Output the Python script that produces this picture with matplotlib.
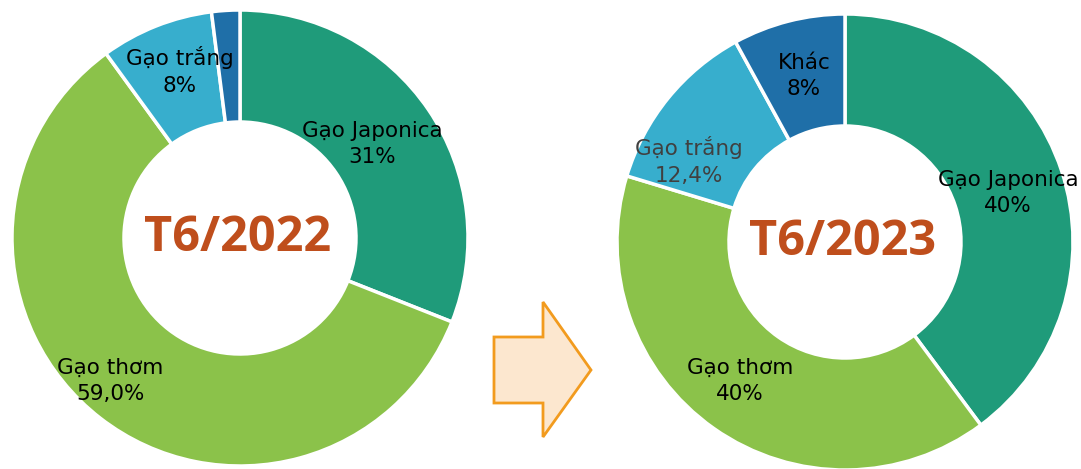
import matplotlib.pyplot as plt
from matplotlib.patches import Polygon

# Rice export structure by type, June 2022 vs June 2023
categories_2022 = ['Gạo Japonica', 'Gạo thơm', 'Gạo trắng', 'Khác']
share_2022 = [31, 59.0, 8, 2]
pct_labels_2022 = ['31%', '59,0%', '8%', '']

categories_2023 = ['Gạo Japonica', 'Gạo thơm', 'Gạo trắng', 'Khác']
share_2023 = [40, 40, 12.4, 8]
pct_labels_2023 = ['40%', '40%', '12,4%', '8%']

colors = ['#1f9b7a', '#8bc24a', '#37aecd', '#1f6fa8']

W, H = 1081, 469
fig = plt.figure(figsize=(10.81, 4.69), dpi=100)
ax = fig.add_axes([0, 0, 1, 1])

wedge_style = dict(width=112, edgecolor='white', linewidth=2.5)

# left donut (2022)
ax.pie(share_2022, colors=colors, startangle=90, counterclock=False,
       radius=228, center=(240, H - 238), wedgeprops=wedge_style)
# right donut (2023)
ax.pie(share_2023, colors=colors, startangle=90, counterclock=False,
       radius=228, center=(845, H - 242), wedgeprops=wedge_style)

ax.set_xlim(0, W)
ax.set_ylim(0, H)
ax.set_aspect('equal')
ax.axis('off')

# label positions in pixel coords (x, y from top)
pos_2022 = [(372, 144), (110, 381), (180, 71), None]
pos_2023 = [(1008, 193), (740, 381), (689, 161), (804, 76)]
colors_2023_text = ['black', 'black', '#404040', 'black']

for name, pct, p in zip(categories_2022, pct_labels_2022, pos_2022):
    if p is None:
        continue
    ax.text(p[0], H - p[1], f'{name}\n{pct}', ha='center', va='center',
            fontsize=15.5, linespacing=1.4, color='black')

for name, pct, p, c in zip(categories_2023, pct_labels_2023, pos_2023, colors_2023_text):
    ax.text(p[0], H - p[1], f'{name}\n{pct}', ha='center', va='center',
            fontsize=15.5, linespacing=1.4, color=c)

# year titles in the holes
ax.text(238, H - 238, 'T6/2022', ha='center', va='center', fontsize=35,
        fontweight='bold', family='Open Sans', color='#bf4e1c')
ax.text(843, H - 242, 'T6/2023', ha='center', va='center', fontsize=35,
        fontweight='bold', family='Open Sans', color='#bf4e1c')

# arrow between the two charts
arrow = [(494, 337), (543, 337), (543, 302), (591, 370), (543, 437),
         (543, 403), (494, 403)]
ax.add_patch(Polygon([(x, H - y) for x, y in arrow], closed=True,
                     facecolor='#fce7cf', edgecolor='#f29b1e', linewidth=2))

fig.savefig('out.png', dpi=100, facecolor='white')
